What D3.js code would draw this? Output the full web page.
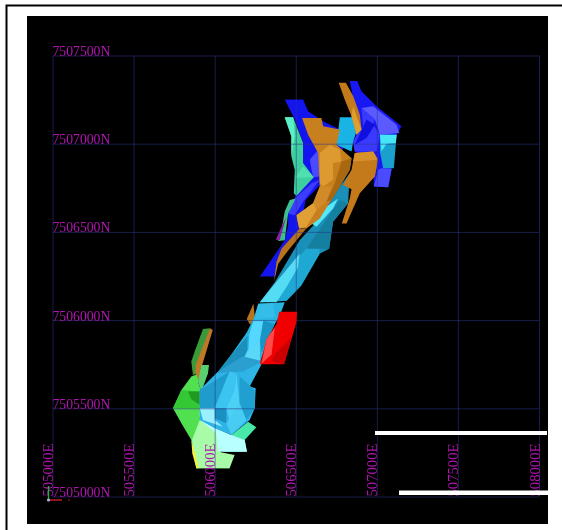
<!DOCTYPE html>
<html><head><meta charset="utf-8">
<script src="https://cdn.jsdelivr.net/npm/d3@7/dist/d3.min.js"></script>
<style>html,body{margin:0;padding:0;background:#fff}svg{display:block}</style>
</head><body><svg id="c" width="562" height="530"></svg>
<script>
// Tick values (UTM metres)
const eastTicks = [505000,505500,506000,506500,507000,507500,508000];
const northTicks = [7505000,7505500,7506000,7506500,7507000,7507500];

// Ore-body faces, [easting, northing], read from the plan view
const blueFaces = [
 [[506432,7507251],[506545,7507251],[506576,7507184],[506669,7507127],[506772,7507080],[506800,7506985],[506700,7506814],[506560,7506680],[506524,7506481],[506402,7506376],[506371,7506247],[506279,7506247],[506432,7506452],[506453,7506538],[506453,7506605],[506494,7506690],[506545,7506852],[506545,7507004],[506494,7507137]],
 [[506586,7506909],[506648,7506975],[506648,7506814],[506607,7506810]],
 [[506494,7506690],[506597,7506776],[506648,7506795],[506545,7506671],[506494,7506595],[506453,7506605]],
 [[506833,7507355],[506879,7507355],[506905,7507298],[506998,7507213],[507152,7507099],[507122,7507051],[507091,7506852],[507070,7506753],[506982,7506757],[506977,7506890],[506864,7506956],[506854,7507013],[506895,7507099],[506864,7507213]],
 [[506977,7507213],[507122,7507108],[507138,7507061],[507019,7507051],[506988,7507137],[506905,7507203]],
 [[506905,7507203],[506988,7507137],[506977,7507108],[507019,7507051],[506998,7506956],[506864,7506956],[506854,7507013],[506916,7507099]],
 [[506936,7507137],[506988,7507108],[506936,7507032],[506864,7506994]],
 [[507029,7506861],[507091,7506856],[507070,7506753],[506982,7506757],[507008,7506852]]
];
const tealFaces = [
 [[506432,7507150],[506484,7507150],[506545,7507004],[506545,7506890],[506611,7506810],[506504,7506704],[506488,7506719],[506494,7506852],[506473,7506928],[506473,7507042]],
 [[506432,7507150],[506484,7507150],[506494,7507042],[506473,7506928],[506473,7507042]],
 [[506545,7506871],[506611,7506810],[506494,7506805]],
 [[506463,7506681],[506500,7506690],[506453,7506605],[506432,7506453],[506391,7506449],[506412,7506510],[506432,7506615]],
 [[506442,7506586],[506401,7506453],[506377,7506456],[506412,7506529]]
];
const upperCyanFaces = [
 [[507019,7507051],[507122,7507051],[507105,7506861],[507039,7506861],[507019,7506956]],
 [[507019,7507051],[507122,7507051],[507117,7507004],[507060,7507000],[507029,7506956]],
 [[506772,7507150],[506854,7507150],[506875,7507070],[506854,7507013],[506844,7506956],[506751,7506994]],
 [[506833,7506833],[506823,7506662],[506730,7506557],[506706,7506405],[506647,7506376],[506534,7506196],[506443,7506110],[506279,7506101],[506371,7506215],[506524,7506452],[506648,7506576],[506772,7506757]],
 [[506371,7506206],[506647,7506490],[506647,7506376],[506534,7506196],[506443,7506110],[506279,7506101]],
 [[506772,7506681],[506823,7506662],[506730,7506557],[506706,7506405],[506566,7506405]],
 [[506279,7506101],[506371,7506206],[506524,7506376],[506514,7506300],[506443,7506187],[506381,7506101]],
 [[506597,7506548],[506689,7506643],[506761,7506690],[506730,7506633],[506628,7506529]]
];
const orangeFaces = [
 [[506765,7507346],[506809,7507346],[506854,7507270],[506895,7507165],[506905,7507080],[506875,7507051],[506844,7507156],[506802,7507251]],
 [[506854,7507213],[506905,7507080],[506875,7507051],[506844,7507156]],
 [[506539,7507146],[506658,7507146],[506669,7507099],[506772,7507080],[506751,7506994],[506844,7506918],[506833,7506852],[506772,7506757],[506720,7506681],[506648,7506576],[506566,7506519],[506521,7506519],[506504,7506595],[506607,7506662],[506648,7506757],[506638,7506947],[506576,7507051]],
 [[506648,7506947],[506710,7506994],[506772,7506966],[506782,7506899],[506730,7506890],[506730,7506795],[506669,7506757],[506648,7506776]],
 [[506782,7506899],[506844,7506918],[506833,7506852],[506772,7506757],[506720,7506681],[506689,7506671],[506741,7506776]],
 [[506504,7506595],[506607,7506662],[506658,7506671],[506628,7506624],[506566,7506529],[506521,7506519]],
 [[506607,7506662],[506648,7506757],[506720,7506757],[506689,7506671],[506628,7506624]],
 [[506864,7506947],[506977,7506956],[507008,7506909],[506988,7506814],[506895,7506719],[506813,7506548],[506784,7506548],[506833,7506690],[506844,7506742],[506792,7506766],[506844,7506852]],
 [[506864,7506947],[506977,7506956],[507008,7506909],[506854,7506899]],
 [[506365,7506215],[506381,7506329],[506412,7506405],[506520,7506515],[506565,7506519],[506453,7506395],[506392,7506319]],
 [[506198,7506006],[506239,7506092],[506249,7506006],[506218,7505975]]
];
const midCyanFaces = [
 [[506269,7506092],[506432,7506101],[506402,7506025],[506371,7505978],[506341,7505920],[506300,7505816],[506275,7505750],[506147,7505693],[505994,7505674],[506096,7505797],[506198,7505930],[506239,7506006]],
 [[506269,7506092],[506361,7506095],[506371,7506015],[506249,7506006]],
 [[506239,7505997],[506300,7505997],[506279,7505883],[506208,7505826],[506214,7505920]],
 [[506300,7505997],[506371,7505978],[506341,7505920],[506290,7505816],[506279,7505883]],
 [[505994,7505674],[506096,7505797],[506202,7505911],[506202,7505826],[506147,7505731],[506065,7505702]],
 [[506147,7505712],[506202,7505826],[506279,7505883],[506279,7505750]]
];
const greenFaces = [
 [[505928,7505950],[505971,7505954],[505897,7505698],[505866,7505689],[505856,7505765],[505880,7505830]],
 [[505971,7505954],[505988,7505944],[505920,7505736],[505883,7505689],[505883,7505746]],
 [[505743,7505500],[505795,7505604],[505856,7505680],[505908,7505698],[505897,7505651],[505918,7505595],[505908,7505434],[506010,7505302],[506092,7505160],[505887,7505160],[505856,7505320],[505795,7505415]],
 [[505795,7505604],[505908,7505595],[505908,7505500],[505743,7505500]],
 [[505836,7505595],[505908,7505595],[505908,7505519],[505856,7505551]],
 [[505877,7505717],[505903,7505651],[505918,7505727]],
 [[505918,7505746],[505965,7505746],[505959,7505698],[505918,7505595],[505897,7505651]],
 [[505908,7505434],[506021,7505387],[506021,7505254],[506123,7505235],[506092,7505160],[505887,7505160],[505860,7505320]],
 [[505856,7505320],[505883,7505235],[505903,7505160],[505887,7505160],[505862,7505245]],
 [[506103,7505349],[506206,7505424],[506257,7505392],[506185,7505320],[506199,7505254],[506051,7505254]],
 [[505908,7505481],[506010,7505387],[506103,7505349],[506185,7505320],[506199,7505254],[506021,7505254],[506010,7505358],[505908,7505434]]
];
const lowerCyanFaces = [
 [[505908,7505500],[505908,7505604],[506010,7505698],[506175,7505793],[506298,7505765],[506216,7505623],[506253,7505613],[506247,7505500],[506216,7505434],[506103,7505349],[506000,7505387],[505908,7505434]],
 [[506010,7505698],[506175,7505708],[506298,7505765],[506175,7505793]],
 [[505908,7505604],[506092,7505708],[506000,7505500],[505908,7505500]],
 [[506092,7505708],[506134,7505698],[506123,7505604],[506072,7505500],[506000,7505500]],
 [[506000,7505500],[506072,7505500],[506072,7505415],[506000,7505443]],
 [[506134,7505698],[506154,7505528],[506103,7505396],[506072,7505500],[506123,7505604]],
 [[506154,7505680],[506247,7505604],[506247,7505500],[506195,7505434],[506154,7505528]],
 [[505908,7505500],[506000,7505500],[506000,7505434],[506051,7505396],[505928,7505434]],
 [[506072,7505415],[506154,7505528],[506195,7505434],[506103,7505349]]
];
const redFaces = [
 [[506398,7506048],[506508,7506048],[506504,7505987],[506428,7505750],[506279,7505750],[506320,7505892],[506381,7505978]],
 [[506320,7505892],[506371,7505958],[506351,7505806],[506289,7505753]],
 [[506351,7505768],[506428,7505750],[506473,7505902],[506371,7505806]]
];

// Face shades, one per face above
const blueShades = ['#1414ee','#4a4aff','#3c3cff','#1818f5','#5a5aff','#3a3aff','#1010e0','#4a4aff'];
const tealShades = ['#3ecf9e','#5cf0c8','#50e0b0','#3cc090','#8a20a0'];
const upperCyanShades = ['#1aa0cc','#45e5f5','#1ab4e4','#1a8fb8','#1fa8d4','#157f9f','#55dcf5','#55e8f8'];
const orangeShades = ['#c47a1c','#e0a030','#c8801e','#dd9a30','#a86810','#e0a035','#d08a28','#c47a1a','#d8922a','#b8741a','#b8741a'];
const midCyanShades = ['#28b4e0','#35bdea','#55d8ff','#1a94c4','#1d8fbd','#5ad8f8'];
const greenShades = ['#3a9a3a','#c07828','#50e050','#35c835','#209a20','#c07828','#58d070','#a8fca8','#f4f040','#48e8a8','#b8ffff'];
const lowerCyanShades = ['#2fb4e8','#2a9fd0','#1f9ccc','#3cc4f0','#1a8fc0','#4cd0f5','#1fa0d0','#9af0ff','#48ccf4'];
const redShades = ['#f00000','#ff4a4a','#cc0000'];

const svg = d3.select('#c');
const chart = svg.append('g').style('filter','blur(0.45px)');
chart.append('rect').attr('x',27).attr('y',16).attr('width',521).attr('height',508).attr('fill','#000');

const x = d3.scaleLinear().domain([505000,508000]).range([52.5,539]);
const y = d3.scaleLinear().domain([7505000,7507500]).range([496.5,55.5]);
const line = d3.line().x(d=>x(d[0])).y(d=>y(d[1])).curve(d3.curveLinearClosed);

const drawBody = ([faces,shades])=>{
  chart.append('g').selectAll('path').data(faces).join('path')
    .attr('d',line).attr('fill',(d,i)=>shades[i]);
};
[
 [blueFaces,blueShades],[upperCyanFaces,upperCyanShades],[tealFaces,tealShades],[orangeFaces,orangeShades],
 [midCyanFaces,midCyanShades],[greenFaces,greenShades],[lowerCyanFaces,lowerCyanShades]
].forEach(drawBody);

const gridColor = '#2c3488', labelColor = '#b214b2', labelFont = '"Liberation Serif",serif';
const gx = chart.append('g').attr('transform','translate(0,496.5)')
  .call(d3.axisBottom(x).tickValues(eastTicks).tickSize(-441).tickFormat(d=>d+'E'));
const gy = chart.append('g').attr('transform','translate(52.5,0)')
  .call(d3.axisLeft(y).tickValues(northTicks).tickSize(-486.5).tickFormat(d=>d+'N'));
[gx,gy].forEach(g=>{
  g.select('.domain').remove();
  g.selectAll('line').attr('stroke',gridColor).attr('stroke-width',1).attr('stroke-opacity',0.55);
  g.selectAll('text').attr('fill',labelColor).style('font-family',labelFont);
});
gx.selectAll('text').style('font-size','14.7px').attr('x',0).attr('y',0).attr('dy',0).attr('text-anchor','start').attr('transform','rotate(-90)');
gy.selectAll('text').style('font-size','13.7px').attr('x',0).attr('y',0).attr('dy',0).attr('text-anchor','start');

drawBody([redFaces,redShades]);

// Orientation triad at the corner
const triad = chart.append('g');
triad.append('line').attr('x1',48.5).attr('x2',48.5).attr('y1',500).attr('y2',486).attr('stroke','#22b040').attr('stroke-width',1.4);
triad.append('line').attr('x1',48.5).attr('x2',62).attr('y1',500).attr('y2',500).attr('stroke','#d02020').attr('stroke-width',1.4);
triad.append('circle').attr('cx',69).attr('cy',500).attr('r',1).attr('fill','#701010');
triad.append('circle').attr('cx',48.5).attr('cy',500).attr('r',1.6).attr('fill','#b0b0e8');

// White masks and outer frame
chart.append('rect').attr('x',375).attr('y',431).attr('width',172).attr('height',4).attr('fill','#fff');
chart.append('rect').attr('x',399).attr('y',490.5).attr('width',149).attr('height',4.5).attr('fill','#fff');
svg.append('path').attr('d','M6.5,530V5.5H562').attr('fill','none').attr('stroke','#000').attr('stroke-width',2);
</script></body></html>
